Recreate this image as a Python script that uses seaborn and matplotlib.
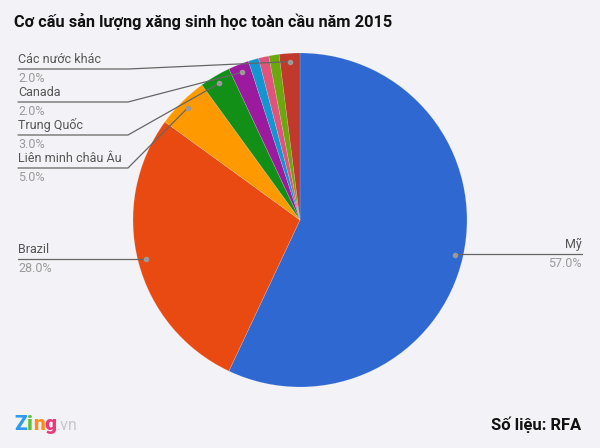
import numpy as np
import matplotlib
matplotlib.use("Agg")
import matplotlib.pyplot as plt
import seaborn as sns

# ---- data ----
categories = ["Mỹ", "Brazil", "Liên minh châu Âu", "Trung Quốc", "Canada",
              "Khác 1", "Khác 2", "Khác 3", "Các nước khác"]
shares = [57.0, 28.0, 5.0, 3.0, 2.0, 1.0, 1.0, 1.0, 2.0]
show_label = [True, True, True, True, True, False, False, False, True]
slice_colors = ["#2f68d0", "#e84a12", "#ff9900", "#128f17", "#9c1a9e",
                "#1196cf", "#e0547c", "#6aa80e", "#c0392b"]
title = "Cơ cấu sản lượng xăng sinh học toàn cầu năm 2015"
source = "Số liệu: RFA"

sns.set_theme(style="white")
plt.rcParams["font.family"] = ["Roboto", "DejaVu Sans"]

BG = "#f3f2f6"
W, H = 600, 448
fig = plt.figure(figsize=(6.0, 4.48), dpi=100, facecolor=BG)
ax = fig.add_axes([0, 0, 1, 1])
ax.set_facecolor(BG)

def Y(py):
    return H - py

cx, cy, R = 300, Y(220), 167
palette = sns.color_palette(slice_colors)
wedges, _ = ax.pie(shares, colors=palette, startangle=90, counterclock=False,
                   center=(cx, cy), radius=R, frame=True,
                   wedgeprops=dict(edgecolor=(1, 1, 1, 0.25), linewidth=0.4))
ax.set_xlim(0, W)
ax.set_ylim(0, H)
ax.set_aspect("equal")
ax.axis("off")

# label layout (pixel coordinates)
left_layout = {
    "Các nước khác": 69,
    "Canada": 102,
    "Trung Quốc": 135,
    "Liên minh châu Âu": 168,
    "Brazil": 259,
}
name_col = "#555555"
pct_col = "#9a9a9a"
line_col = "#666666"
fs = 9

for w, cat, val, show in zip(wedges, categories, shares, show_label):
    if not show:
        continue
    th = np.deg2rad((w.theta1 + w.theta2) / 2)
    px = cx + 0.95 * R * np.cos(th)
    py = cy + 0.95 * R * np.sin(th)
    ax.plot([px], [py], marker="o", ms=3, color="#9a9a9a", zorder=5)
    if cat in left_layout:
        uy = Y(left_layout[cat])
        if cat == "Brazil":
            ax.plot([18, px], [uy, uy], color=line_col, lw=0.9, zorder=4)
        else:
            ax.plot([18, 128, px], [uy, uy, py], color=line_col, lw=0.9, zorder=4)
        ax.text(18, uy + 3, cat, ha="left", va="bottom", fontsize=fs, color=name_col)
        ax.text(18, uy - 3, f"{val:.1f}%", ha="left", va="top", fontsize=fs, color=pct_col)
    else:
        uy = Y(254)
        ax.plot([px, 582], [uy, uy], color=line_col, lw=0.9, zorder=4)
        ax.text(582, uy + 3, cat, ha="right", va="bottom", fontsize=fs, color=name_col)
        ax.text(582, uy - 3, f"{val:.1f}%", ha="right", va="top", fontsize=fs, color=pct_col)

# title
ax.text(14, Y(21), title, ha="left", va="center", fontsize=11.8,
        fontweight="bold", color="#111111")
# source
ax.text(581, Y(425), source, ha="right", va="center", fontsize=12,
        fontweight="bold", color="#111111")

# logo
logo_letters = ["Z", "i", "n", "g"]
logo_cols = ["#2e9bf0", "#5cc13a", "#ff8c1a", "#e83a7c"]
x0 = 14
for ch, col in zip(logo_letters, logo_cols):
    t = ax.text(x0, Y(424), ch, ha="left", va="center", fontsize=15,
                fontweight="heavy", color=col)
    fig.canvas.draw()
    bb = t.get_window_extent()
    x0 += bb.width * W / fig.bbox.width
ax.text(x0 + 1, Y(425), ".vn", ha="left", va="center", fontsize=11.5, color="#c8c8cc")

fig.savefig("out.png", dpi=100, facecolor=BG)
